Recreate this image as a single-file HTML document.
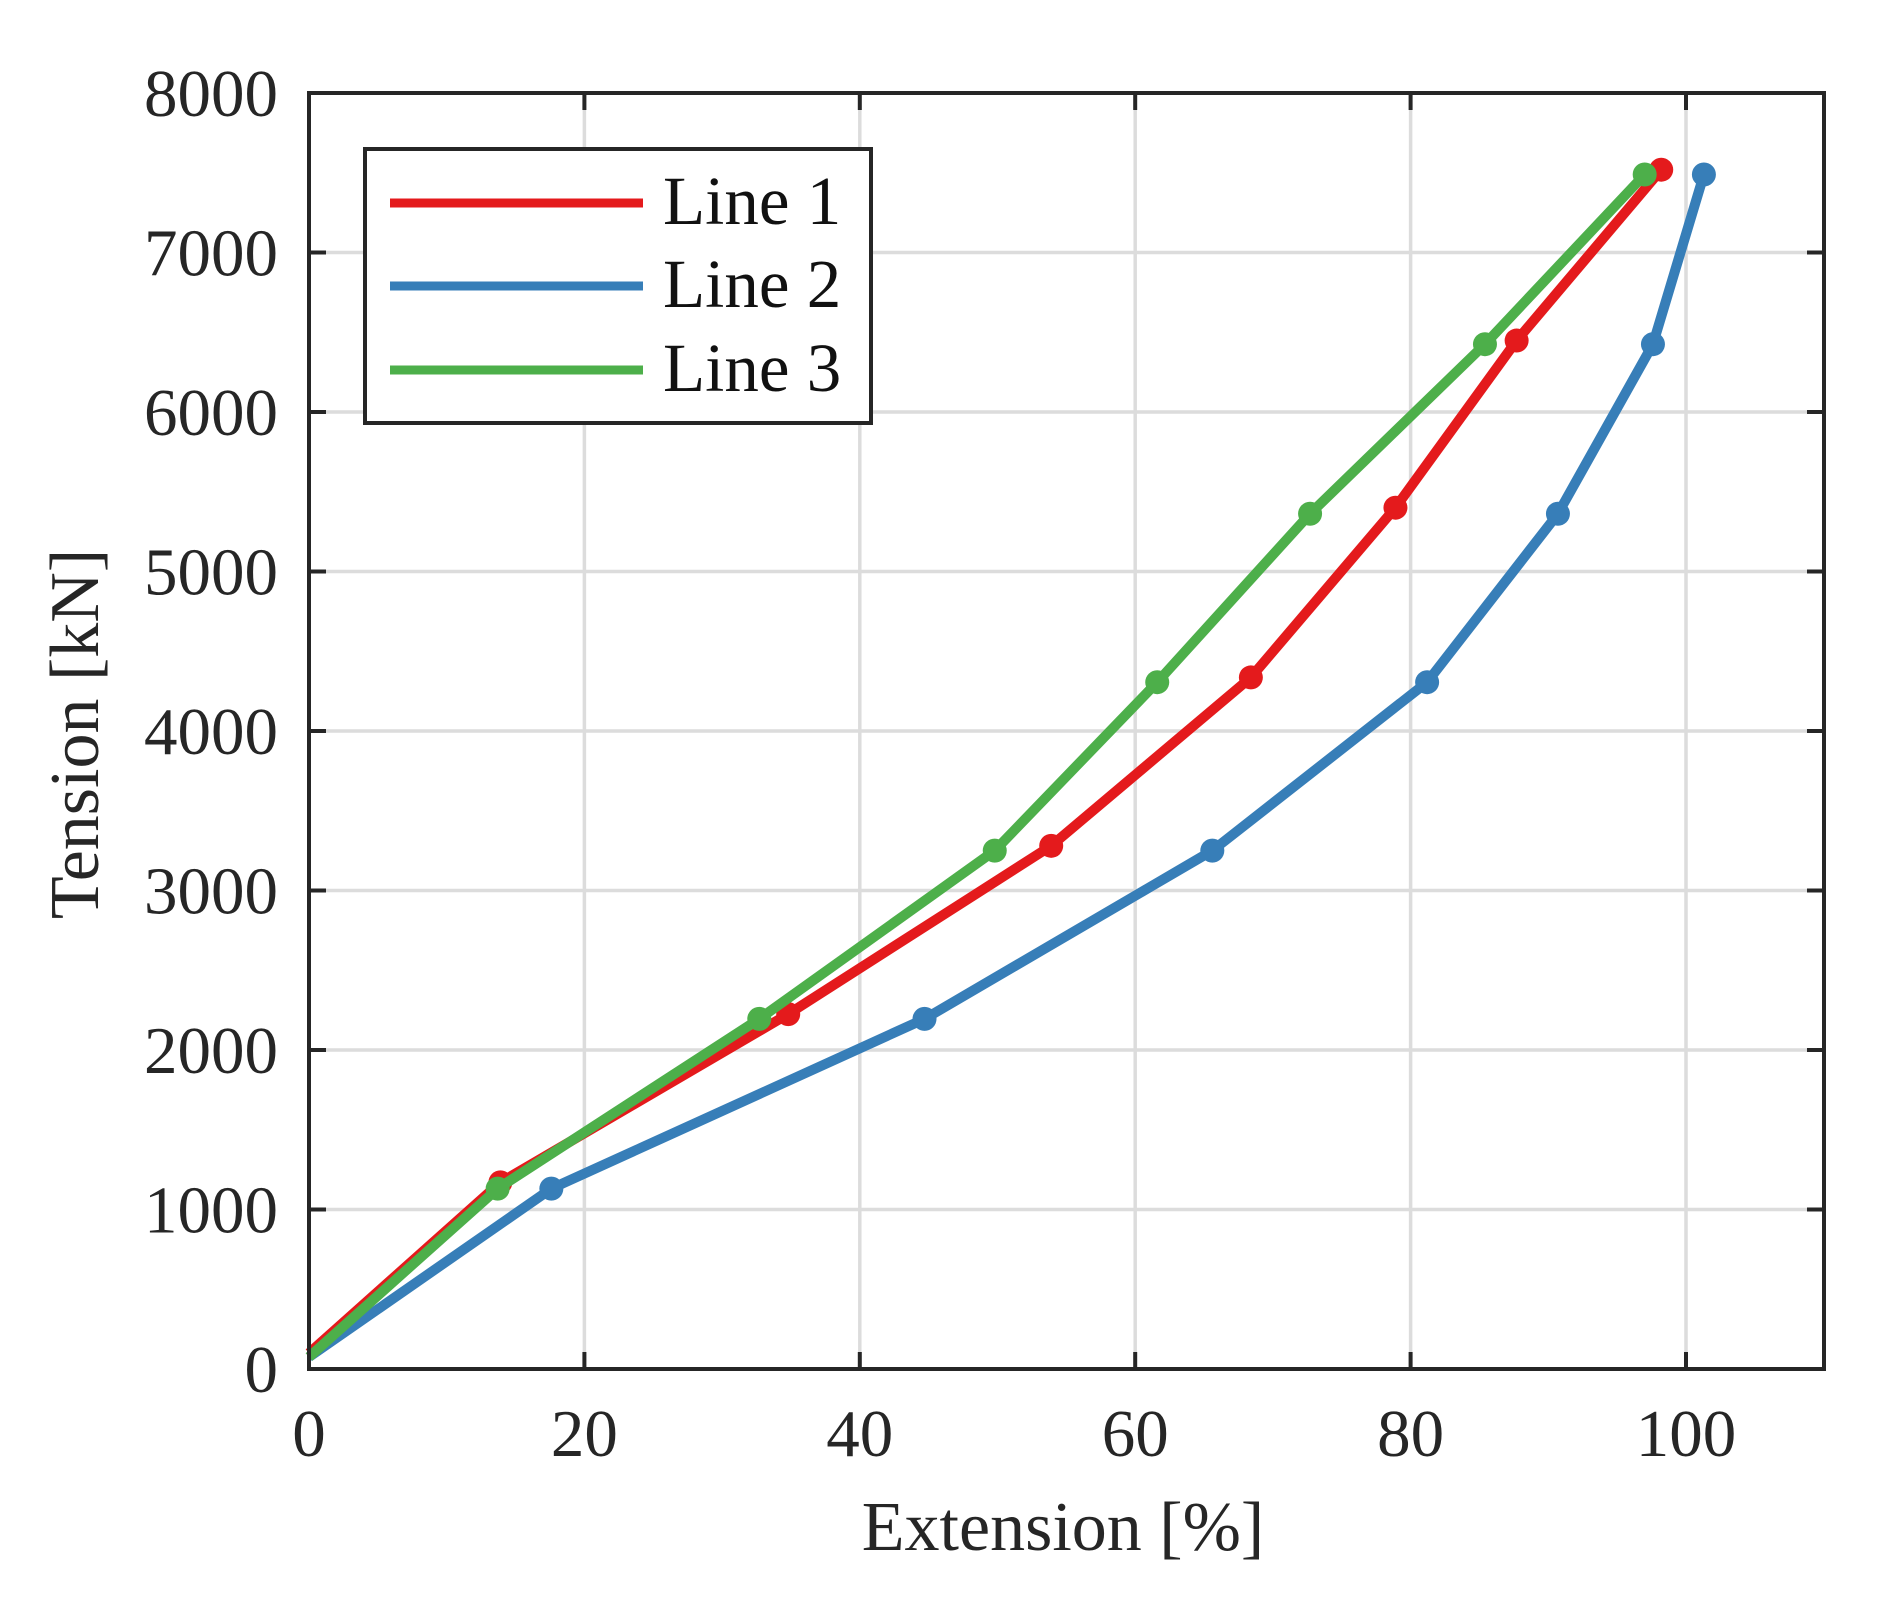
<!DOCTYPE html>
<html><head><meta charset="utf-8"><style>
html,body{margin:0;padding:0;background:#fff;}
svg{display:block;font-family:"Liberation Serif",serif;}
</style></head><body>
<svg id="s" width="1885" height="1603" viewBox="0 0 1885 1603" xmlns="http://www.w3.org/2000/svg">
<rect width="1885" height="1603" fill="#fff"/>
<g id="grid" stroke="#dcdcdc" stroke-width="3.5"></g>
<g id="series" fill="none" stroke-width="10" stroke-linejoin="round"></g>
<g id="ticks" stroke="#262626" stroke-width="4"></g>
<rect x="309" y="93" width="1515" height="1276" fill="none" stroke="#262626" stroke-width="4"/>
<g id="labels" fill="#262626" font-size="67"></g>
<text x="1063" y="1550" font-size="70" fill="#262626" text-anchor="middle">Extension [%]</text>
<text transform="translate(98,734) rotate(-90)" font-size="70" fill="#262626" text-anchor="middle">Tension [kN]</text>
<rect x="365" y="149" width="506" height="274" fill="#fff" stroke="#262626" stroke-width="4"/>
<line x1="390" y1="203" x2="643" y2="203" stroke="#e41a1c" stroke-width="9"/>
<line x1="390" y1="286" x2="643" y2="286" stroke="#377eb8" stroke-width="9"/>
<line x1="390" y1="370" x2="643" y2="370" stroke="#4daf4a" stroke-width="9"/>
<g font-size="69" fill="#111">
<text x="663" y="224">Line 1</text>
<text x="663" y="307">Line 2</text>
<text x="663" y="391">Line 3</text>
</g>
</svg>
<script>
var NS="http://www.w3.org/2000/svg";
function X(v){return 309+v*13.77;}
function Y(v){return 1369-v*0.1595;}
function el(p,t,a,txt){var e=document.createElementNS(NS,t);for(var k in a)e.setAttribute(k,a[k]);if(txt!==undefined)e.textContent=txt;document.getElementById(p).appendChild(e);}
for(var i=1;i<=5;i++){el("grid","line",{x1:X(i*20),y1:93,x2:X(i*20),y2:1369});}
for(var j=1;j<=7;j++){el("grid","line",{x1:309,y1:Y(j*1000),x2:1824,y2:Y(j*1000)});}
for(var i=0;i<=5;i++){var x=X(i*20);el("ticks","line",{x1:x,y1:1369,x2:x,y2:1352});el("ticks","line",{x1:x,y1:93,x2:x,y2:110});
 el("labels","text",{x:x,y:1456,"text-anchor":"middle"},String(i*20));}
for(var j=0;j<=8;j++){var y=Y(j*1000);el("ticks","line",{x1:309,y1:y,x2:326,y2:y});el("ticks","line",{x1:1824,y1:y,x2:1807,y2:y});
 el("labels","text",{x:278,y:y+23,"text-anchor":"end"},String(j*1000));}
var S=[
 ["#e41a1c",[[0,100],[13.9,1170],[34.8,2225],[53.9,3280],[68.4,4336],[78.9,5400],[87.7,6448],[98.2,7519]]],
 ["#377eb8",[[0,75],[17.6,1131],[44.7,2195],[65.6,3250],[81.2,4306],[90.7,5362],[97.6,6425],[101.3,7489]]],
 ["#4daf4a",[[0,75],[13.7,1131],[32.7,2195],[49.8,3250],[61.6,4306],[72.7,5362],[85.4,6425],[97.0,7489]]]
];
S.forEach(function(s){
 el("series","polyline",{points:s[1].map(function(p){return X(p[0])+","+Y(p[1]);}).join(" "),stroke:s[0]});
 s[1].forEach(function(p,k){if(k>0)el("series","circle",{cx:X(p[0]),cy:Y(p[1]),r:12,fill:s[0],stroke:"none"});});
});
</script>
</body></html>
